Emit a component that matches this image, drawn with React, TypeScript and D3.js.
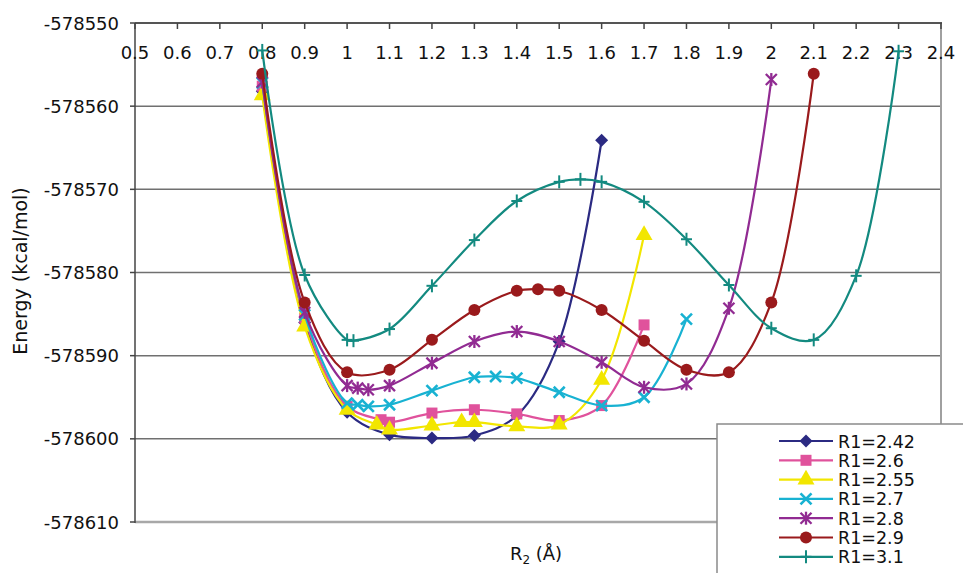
import React from "react";
import * as d3 from "d3";

// ---- data (R2 in Å, energy in kcal/mol) ----
const seriesNames = ["R1=2.42", "R1=2.6", "R1=2.55", "R1=2.7", "R1=2.8", "R1=2.9", "R1=3.1"];

const r2_242 = [0.8, 0.9, 1.0, 1.1, 1.2, 1.3, 1.4, 1.5, 1.6];
const e_242 = [-578558.2, -578586.0, -578596.8, -578599.5, -578599.9, -578599.6, -578597.2, -578588.3, -578564.1];

const r2_26 = [0.8, 0.9, 1.0, 1.08, 1.1, 1.2, 1.3, 1.4, 1.5, 1.6, 1.7];
const e_26 = [-578557.6, -578585.5, -578596.1, -578597.7, -578598.0, -578596.9, -578596.5, -578597.0, -578597.8, -578596.0, -578586.3];

const r2_255 = [0.8, 0.9, 1.0, 1.07, 1.1, 1.2, 1.27, 1.3, 1.4, 1.5, 1.6, 1.7];
const e_255 = [-578558.7, -578586.5, -578596.5, -578598.3, -578598.9, -578598.4, -578598.0, -578598.0, -578598.5, -578598.3, -578592.9, -578575.5];

const r2_27 = [0.8, 0.9, 1.0, 1.025, 1.05, 1.1, 1.2, 1.3, 1.35, 1.4, 1.5, 1.6, 1.7, 1.8];
const e_27 = [-578557.2, -578585.1, -578595.7, -578595.9, -578596.1, -578595.9, -578594.2, -578592.6, -578592.5, -578592.7, -578594.4, -578596.0, -578595.0, -578585.6];

const r2_28 = [0.8, 0.9, 1.0, 1.025, 1.05, 1.1, 1.2, 1.3, 1.4, 1.5, 1.6, 1.7, 1.8, 1.9, 2.0];
const e_28 = [-578557.1, -578584.8, -578593.6, -578593.9, -578594.1, -578593.6, -578590.9, -578588.3, -578587.1, -578588.3, -578590.8, -578593.8, -578593.4, -578584.3, -578556.8];

const r2_29 = [0.8, 0.9, 1.0, 1.1, 1.2, 1.3, 1.4, 1.45, 1.5, 1.6, 1.7, 1.8, 1.9, 2.0, 2.1];
const e_29 = [-578556.1, -578583.6, -578592.0, -578591.7, -578588.1, -578584.5, -578582.2, -578582.0, -578582.2, -578584.5, -578588.2, -578591.7, -578592.0, -578583.6, -578556.1];

const r2_31 = [0.8, 0.9, 1.0, 1.015, 1.1, 1.2, 1.3, 1.4, 1.5, 1.55, 1.6, 1.7, 1.8, 1.9, 2.0, 2.1, 2.2, 2.3];
const e_31 = [-578553.3, -578580.3, -578588.1, -578588.2, -578586.8, -578581.6, -578576.1, -578571.4, -578569.1, -578568.8, -578569.1, -578571.5, -578576.0, -578581.5, -578586.7, -578588.1, -578580.4, -578553.4];

const xTicks = [0.5, 0.6, 0.7, 0.8, 0.9, 1, 1.1, 1.2, 1.3, 1.4, 1.5, 1.6, 1.7, 1.8, 1.9, 2, 2.1, 2.2, 2.3, 2.4];
const yTicks = [-578550, -578560, -578570, -578580, -578590, -578600, -578610];

const colors = ["#2b2a82", "#e0529c", "#f2e600", "#18b2d2", "#912b92", "#9a1a1c", "#138a80"];
const markers = ["diamond", "square", "triangle", "x", "star", "circle", "plus"];

const allX = [r2_242, r2_26, r2_255, r2_27, r2_28, r2_29, r2_31];
const allE = [e_242, e_26, e_255, e_27, e_28, e_29, e_31];

const FONT = "'DejaVu Sans', Arial, sans-serif";

function Marker({ type, x, y, color }: { type: string; x: number; y: number; color: string }) {
  const s = 5.5;
  switch (type) {
    case "diamond":
      return <path d={`M${x},${y - 6.5}L${x + 6.5},${y}L${x},${y + 6.5}L${x - 6.5},${y}Z`} fill={color} />;
    case "square":
      return <rect x={x - 5.5} y={y - 5.5} width={11} height={11} fill={color} />;
    case "triangle":
      return <path d={d3.symbol(d3.symbolTriangle, 125)()!} transform={`translate(${x},${y})`} fill={color} />;
    case "x":
      return (
        <g stroke={color} strokeWidth={2.6}>
          <line x1={x - s} y1={y - s} x2={x + s} y2={y + s} />
          <line x1={x - s} y1={y + s} x2={x + s} y2={y - s} />
        </g>
      );
    case "star":
      return (
        <g stroke={color} strokeWidth={2.3}>
          <line x1={x - s} y1={y - s} x2={x + s} y2={y + s} />
          <line x1={x - s} y1={y + s} x2={x + s} y2={y - s} />
          <line x1={x} y1={y - s - 1} x2={x} y2={y + s + 1} />
        </g>
      );
    case "circle":
      return <circle cx={x} cy={y} r={6} fill={color} />;
    case "plus":
      return (
        <g stroke={color} strokeWidth={2}>
          <line x1={x - s} y1={y} x2={x + s} y2={y} />
          <line x1={x} y1={y - s - 1} x2={x} y2={y + s + 1} />
        </g>
      );
  }
  return null;
}

export default function App() {
  const W = 963, H = 573;
  const left = 135, right = 941, top = 23, bottom = 522;
  const x = d3.scaleLinear().domain([0.5, 2.4]).range([left, right]);
  const y = d3.scaleLinear().domain([-578610, -578550]).range([bottom, top]);
  const line = d3
    .line<[number, number]>()
    .x((d) => x(d[0]))
    .y((d) => y(d[1]))
    .curve(d3.curveCatmullRom.alpha(0.5));

  const legX = 717, legY = 424;
  const rowY = (i: number) => 441 + i * 19.3;

  return (
    <svg width={W} height={H} style={{ position: "absolute", left: 0, top: 0, background: "#fff" }} fontFamily={FONT}>
      <rect x={0} y={0} width={W} height={H} fill="#fff" />
      {/* gridlines */}
      {yTicks.slice(1, -1).map((t) => (
        <line key={t} x1={left} x2={right} y1={y(t)} y2={y(t)} stroke="#707070" strokeWidth={1.5} />
      ))}
      {/* frame */}
      <line x1={right} x2={right} y1={top} y2={bottom} stroke="#a0a0a0" strokeWidth={2} />
      <line x1={left} x2={right} y1={bottom} y2={bottom} stroke="#a8a8a8" strokeWidth={2.5} />
      <line x1={left} x2={right + 1} y1={top} y2={top} stroke="#555" strokeWidth={1.8} />
      <line x1={left} x2={left} y1={top} y2={bottom + 1} stroke="#444" strokeWidth={1.5} />
      {/* y ticks */}
      {yTicks.map((t) => (
        <g key={t}>
          <line x1={left - 5} x2={left} y1={y(t)} y2={y(t)} stroke="#444" strokeWidth={1.5} />
          <text x={119} y={y(t) + 6.5} textAnchor="end" fontSize={18} fill="#111">
            {t}
          </text>
        </g>
      ))}
      {/* x ticks on top axis */}
      {xTicks.map((t) => (
        <g key={t}>
          <line x1={x(t)} x2={x(t)} y1={top} y2={top + 6} stroke="#444" strokeWidth={1.5} />
          <text x={x(t)} y={59} textAnchor="middle" fontSize={18} fill="#111">
            {String(t)}
          </text>
        </g>
      ))}
      {/* series */}
      {allX.map((xs, i) => {
        const pts: [number, number][] = xs.map((v, j) => [v, allE[i][j]]);
        return (
          <g key={i}>
            <path d={line(pts)!} fill="none" stroke={colors[i]} strokeWidth={2.2} />
            {pts.map((p, j) => (
              <Marker key={j} type={markers[i]} x={x(p[0])} y={y(p[1])} color={colors[i]} />
            ))}
          </g>
        );
      })}
      {/* axis titles */}
      <text transform="translate(27,271) rotate(-90)" textAnchor="middle" fontSize={19} fill="#111">
        Energy (kcal/mol)
      </text>
      <text x={536} y={560} textAnchor="middle" fontSize={18} fill="#111">
        R<tspan fontSize={12} dy={4}>2</tspan>
        <tspan dy={-4}> (Å)</tspan>
      </text>
      {/* legend */}
      <rect x={legX} y={legY} width={270} height={170} fill="#fff" stroke="#8a8a8a" strokeWidth={1.5} />
      {seriesNames.map((n, i) => (
        <g key={n}>
          <line x1={779} x2={833} y1={rowY(i)} y2={rowY(i)} stroke={colors[i]} strokeWidth={2.2} />
          <Marker type={markers[i]} x={806} y={rowY(i)} color={colors[i]} />
          <text x={838} y={rowY(i) + 6.5} fontSize={17.5} fill="#111">
            {n}
          </text>
        </g>
      ))}
    </svg>
  );
}
